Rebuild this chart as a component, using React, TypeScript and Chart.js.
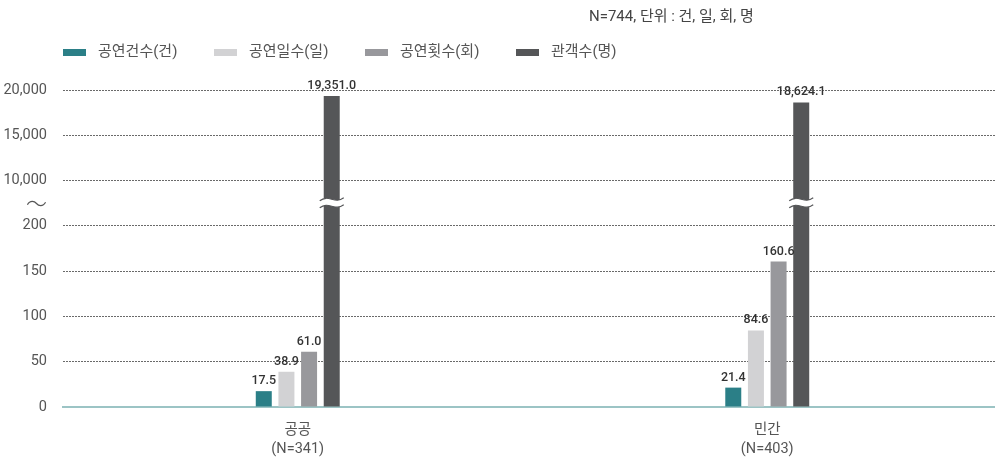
import { useEffect, useRef } from 'react';
import { Chart, registerables } from 'chart.js';

Chart.register(...registerables);

// ---- data ----
const categories = [['공공', '(N=341)'], ['민간', '(N=403)']];
const seriesNames = ['공연건수(건)', '공연일수(일)', '공연횟수(회)', '관객수(명)'];
const performanceCount = [17.5, 21.4];
const performanceDays = [38.9, 84.6];
const performanceTimes = [61.0, 160.6];
const audienceCount = [19351.0, 18624.1];
const yTickValues = [0, 50, 100, 150, 200, 10000, 15000, 20000];
const titleText = 'N=744, 단위 : 건, 일, 회, 명';

// ---- styles ----
const seriesColors = ['#2b7f87', '#d2d2d4', '#98989c', '#555658'];
const FONT = "Roboto, 'Noto Sans CJK KR', sans-serif";

// broken axis: 0..200 in steps of 50, then 10,000..20,000 in steps of 5,000
const LOW_MAX = 200;
const LOW_STEP = 50;
const HIGH_MIN = 10000;
const HIGH_STEP = 5000;
const toAxis = (v: number) =>
  v <= LOW_MAX ? v / LOW_STEP : LOW_MAX / LOW_STEP + 1 + (v - HIGH_MIN) / HIGH_STEP;
const BREAK = LOW_MAX / LOW_STEP + 0.5;

const fmt = (v: number) =>
  v.toLocaleString('en-US', { minimumFractionDigits: 1, maximumFractionDigits: 1 });

const seriesValues = [performanceCount, performanceDays, performanceTimes, audienceCount];

const overlayPlugin = {
  id: 'overlay',
  afterDatasetsDraw(chart: any) {
    const { ctx } = chart;
    const y = chart.scales.y;
    // value labels
    ctx.save();
    ctx.font = `500 12.5px ${FONT}`;
    ctx.fillStyle = '#333';
    ctx.textAlign = 'center';
    ctx.textBaseline = 'alphabetic';
    chart.data.datasets.forEach((ds: any, di: number) => {
      const meta = chart.getDatasetMeta(di);
      meta.data.forEach((bar: any, i: number) => {
        const raw = seriesValues[di][i];
        ctx.fillText(fmt(raw), bar.x, bar.y - 7);
      });
    });
    // break marks on tall bars
    const by = y.getPixelForValue(BREAK);
    chart.data.datasets.forEach((ds: any, di: number) => {
      const meta = chart.getDatasetMeta(di);
      meta.data.forEach((bar: any, i: number) => {
        const raw = seriesValues[di][i];
        if (raw <= LOW_MAX) return;
        const x0 = bar.x - 12;
        const x1 = bar.x + 12;
        const wave = (off: number) => {
          ctx.moveTo(x0, by + off + 1);
          ctx.bezierCurveTo(x0 + 9, by + off - 6, x1 - 9, by + off + 5, x1, by + off - 2);
        };
        ctx.beginPath();
        wave(-3.5);
        ctx.lineTo(x1, by + 1.5);
        ctx.bezierCurveTo(x1 - 9, by + 8.5, x0 + 9, by - 2.5, x0, by + 4.5);
        ctx.closePath();
        ctx.fillStyle = '#ffffff';
        ctx.fill();
        ctx.beginPath();
        wave(-3.5);
        ctx.moveTo(x0, by + 4.5);
        ctx.bezierCurveTo(x0 + 9, by - 2.5, x1 - 9, by + 8.5, x1, by + 1.5);
        ctx.strokeStyle = seriesColors[di];
        ctx.lineWidth = 1.2;
        ctx.stroke();
      });
    });
    ctx.restore();
  },
  afterDraw(chart: any) {
    const { ctx } = chart;
    ctx.save();
    // title
    ctx.font = `15px ${FONT}`;
    ctx.fillStyle = '#444';
    ctx.textAlign = 'left';
    ctx.textBaseline = 'middle';
    ctx.fillText(titleText, 589, 17);
    // legend
    ctx.font = `15px ${FONT}`;
    chart.data.datasets.forEach((ds: any, i: number) => {
      const x = 63 + i * 151;
      ctx.fillStyle = ds.backgroundColor;
      ctx.fillRect(x, 49, 23, 7);
      ctx.fillStyle = '#555';
      ctx.fillText(ds.label, x + 35, 52);
    });
    ctx.restore();
  },
};

export default function App() {
  const ref = useRef<HTMLCanvasElement>(null);
  useEffect(() => {
    if (!ref.current) return;
    const chart = new Chart(ref.current, {
      type: 'bar',
      data: {
        labels: categories,
        datasets: seriesNames.map((name, i) => ({
          label: name,
          data: seriesValues[i].map(toAxis),
          backgroundColor: seriesColors[i],
          borderWidth: 0,
          barPercentage: 0.706,
          categoryPercentage: 0.193,
        })),
      },
      options: {
        animation: false,
        responsive: false,
        layout: { padding: { top: 90, right: 1, left: 0, bottom: 0 } },
        plugins: { legend: { display: false }, title: { display: false }, tooltip: { enabled: false } },
        scales: {
          x: {
            grid: { display: false, drawTicks: false },
            border: { display: true, color: '#9cc4c5', width: 2 },
            ticks: {
              color: '#555',
              padding: 14,
              font: { family: FONT, size: 14.5, lineHeight: 1.32 },
            },
            afterFit: (s: any) => { s.height = 51; },
          },
          y: {
            min: 0,
            max: toAxis(yTickValues[yTickValues.length - 1]),
            afterBuildTicks: (s: any) => {
              s.ticks = [...yTickValues.map(toAxis), BREAK]
                .sort((a, b) => a - b)
                .map((v) => ({ value: v }));
            },
            afterFit: (s: any) => { s.width = 63; },
            grid: {
              drawTicks: false,
              color: (c: any) =>
                c.tick && (c.tick.value === 0 || c.tick.value === BREAK) ? 'rgba(0,0,0,0)' : '#6a6a6a',
              lineWidth: 1,
            },
            border: { display: false, dash: [2, 1] },
            ticks: {
              color: '#555',
              padding: 16,
              font: (c: any) =>
                c.tick && c.tick.value === BREAK
                  ? { family: "'Noto Sans CJK KR', sans-serif", size: 21, weight: '300' }
                  : { family: FONT, size: 14.5 },
              callback: (value: any) => {
                if (value === BREAK) return '〜';
                const v = yTickValues.find((t) => toAxis(t) === value);
                return v === undefined ? '' : v.toLocaleString('en-US');
              },
            },
          },
        },
      },
      plugins: [overlayPlugin],
    });
    return () => chart.destroy();
  }, []);
  return (
    <div style={{ position: 'absolute', left: 0, top: 0, width: 995, height: 458, overflow: 'hidden', background: '#fff' }}>
      <canvas ref={ref} width={1003} height={458} style={{ display: 'block' }} />
    </div>
  );
}
